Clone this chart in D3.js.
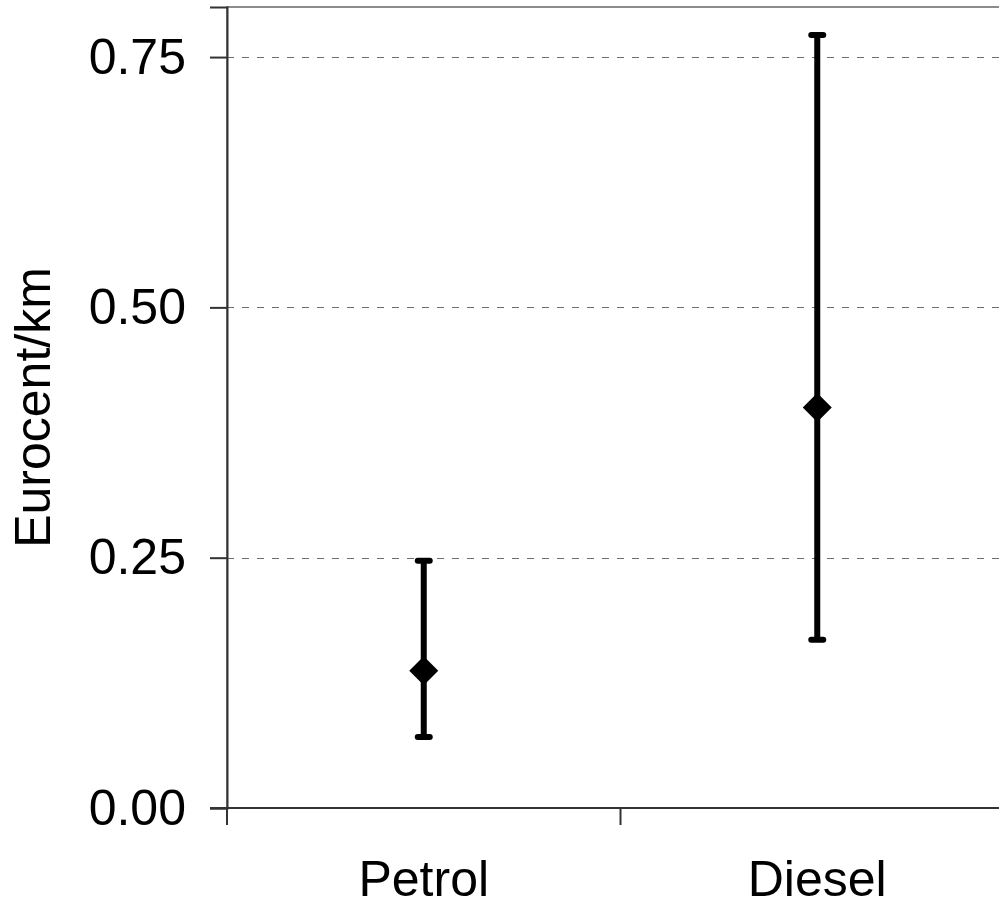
<html>
<head>
<style>
  body { margin: 0; background: #fff; }
  text { font-family: "Liberation Sans", Arial, sans-serif; fill: #000; }
</style>
</head>
<body>

<script src="https://d3js.org/d3.v7.min.js"></script>
<script>

    // data
    var categories = ["Petrol", "Diesel"];
    var meanValues = [0.137, 0.40];
    var lowValues = [0.071, 0.168];
    var highValues = [0.247, 0.772];
    var yTicks = [0, 0.25, 0.5, 0.75];

    var width = 999,
        height = 909;

    var margin = {left: 227, right: -15, top: 7, bottom: 101};

    var svg = d3.select("body").append("svg")
        .attr("width", width)
        .attr("height", height);

    var x = d3.scaleBand()
        .domain(categories)
        .range([margin.left, width - margin.right]);

    var y = d3.scaleLinear()
        .domain([0, 0.8])
        .range([height - margin.bottom, margin.top]);

    // plot area frame
    svg.append("rect")
        .attr("x", margin.left)
        .attr("y", margin.top)
        .attr("width", width - margin.right - margin.left)
        .attr("height", y(0) - margin.top)
        .attr("fill", "none")
        .attr("stroke", "#8c8c8c")
        .attr("stroke-width", 2);

    // dashed gridlines
    svg.append("g").selectAll("line")
        .data(yTicks.filter(function (d) { return d > 0; }))
        .enter().append("line")
        .attr("x1", margin.left)
        .attr("x2", width)
        .attr("y1", function (d) { return Math.round(y(d)) + 0.5; })
        .attr("y2", function (d) { return Math.round(y(d)) + 0.5; })
        .attr("stroke", "#6e6e6e")
        .attr("stroke-width", 1)
        .attr("stroke-dasharray", "7,8");

    // y axis
    var yAxis = svg.append("g")
        .attr("transform", "translate(" + margin.left + ",0)")
        .call(d3.axisLeft(y).tickValues(yTicks).tickFormat(d3.format(".2f")).tickSize(17).tickPadding(24));
    yAxis.select(".domain").attr("stroke", "#333").attr("stroke-width", 2);
    yAxis.selectAll(".tick line").attr("stroke", "#333").attr("stroke-width", 2);
    yAxis.selectAll("text").style("font-size", "50px").attr("fill", "#000")
        .attr("font-family", "Liberation Sans, Arial, sans-serif");

    // x axis: ticks between categories
    var bottom = y(0);
    svg.append("line")
        .attr("x1", margin.left - 17).attr("x2", width)
        .attr("y1", bottom).attr("y2", bottom)
        .attr("stroke", "#333").attr("stroke-width", 2);

    var bounds = [margin.left].concat(categories.map(function (d) { return x(d) + x.bandwidth(); }));
    svg.append("g").selectAll("line")
        .data(bounds)
        .enter().append("line")
        .attr("x1", function (d) { return d; })
        .attr("x2", function (d) { return d; })
        .attr("y1", bottom)
        .attr("y2", bottom + 17)
        .attr("stroke", "#333")
        .attr("stroke-width", 2);

    svg.append("g").selectAll("text")
        .data(categories)
        .enter().append("text")
        .attr("x", function (d) { return x(d) + x.bandwidth() / 2; })
        .attr("y", 896)
        .attr("text-anchor", "middle")
        .style("font-size", "50px")
        .text(function (d) { return d; });

    // y title
    svg.append("text")
        .attr("transform", "translate(50," + (margin.top + bottom) / 2 + ") rotate(-90)")
        .attr("text-anchor", "middle")
        .style("font-size", "50px")
        .text("Eurocent/km");

    // error bars
    var bars = svg.append("g").selectAll("g")
        .data(categories)
        .enter().append("g");

    bars.append("line")
        .attr("x1", function (d) { return x(d) + x.bandwidth() / 2; })
        .attr("x2", function (d) { return x(d) + x.bandwidth() / 2; })
        .attr("y1", function (d, i) { return y(lowValues[i]); })
        .attr("y2", function (d, i) { return y(highValues[i]); })
        .attr("stroke", "#000")
        .attr("stroke-width", 6);

    [lowValues, highValues].forEach(function (arr) {
        bars.append("line")
            .attr("x1", function (d) { return x(d) + x.bandwidth() / 2 - 6; })
            .attr("x2", function (d) { return x(d) + x.bandwidth() / 2 + 6; })
            .attr("y1", function (d, i) { return y(arr[i]); })
            .attr("y2", function (d, i) { return y(arr[i]); })
            .attr("stroke", "#000")
            .attr("stroke-width", 6)
            .attr("stroke-linecap", "round");
    });

    bars.append("path")
        .attr("d", d3.symbol().type(d3.symbolSquare).size(420))
        .attr("transform", function (d, i) {
            return "translate(" + (x(d) + x.bandwidth() / 2) + "," + y(meanValues[i]) + ") rotate(45)";
        })
        .attr("fill", "#000");

</script>
</body>
</html>
